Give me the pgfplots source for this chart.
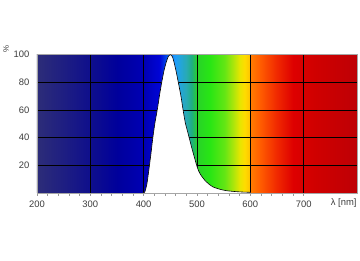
\documentclass[border=0pt]{standalone}
\usepackage{fontspec}
\setmainfont{Liberation Sans}
\usepackage{pgfplots}
\pgfplotsset{compat=1.18}
\definecolor{c200}{RGB}{45,45,120}
\definecolor{c300}{RGB}{15,15,140}
\definecolor{c350}{RGB}{0,0,155}
\definecolor{c400}{RGB}{0,0,180}
\definecolor{c430}{RGB}{0,5,215}
\definecolor{c445}{RGB}{0,90,240}
\definecolor{c458}{RGB}{30,155,255}
\definecolor{c468}{RGB}{35,165,220}
\definecolor{c480}{RGB}{40,170,180}
\definecolor{c490}{RGB}{30,175,130}
\definecolor{c500}{RGB}{40,210,40}
\definecolor{c524}{RGB}{40,230,20}
\definecolor{c552}{RGB}{100,230,20}
\definecolor{c570}{RGB}{180,230,10}
\definecolor{c580}{RGB}{230,230,0}
\definecolor{c589}{RGB}{255,220,0}
\definecolor{c598}{RGB}{255,200,0}
\definecolor{c600}{RGB}{255,125,0}
\definecolor{c620}{RGB}{255,90,0}
\definecolor{c650}{RGB}{240,40,0}
\definecolor{c680}{RGB}{222,0,0}
\definecolor{c720}{RGB}{208,0,0}
\definecolor{c800}{RGB}{190,0,5}
\definecolor{txt}{RGB}{60,60,60}
% position(bp) = 25 + (nm-200)/12
\pgfdeclarehorizontalshading{spectrum}{100bp}{%
color(0bp)=(c200);
color(25bp)=(c200);
color(33.33bp)=(c300);
color(37.5bp)=(c350);
color(41.67bp)=(c400);
color(44.17bp)=(c430);
color(45.42bp)=(c445);
color(46.5bp)=(c458);
color(47.33bp)=(c468);
color(48.33bp)=(c480);
color(49.17bp)=(c490);
color(50bp)=(c500);
color(52bp)=(c524);
color(54.33bp)=(c552);
color(55.83bp)=(c570);
color(56.67bp)=(c580);
color(57.42bp)=(c589);
color(58.17bp)=(c598);
color(58.33bp)=(c600);
color(60bp)=(c620);
color(62.5bp)=(c650);
color(65bp)=(c680);
color(68.33bp)=(c720);
color(75bp)=(c800);
color(100bp)=(c800)}
\begin{document}
\begin{tikzpicture}
\begin{axis}[
  scale only axis,
  width=322bp, height=139bp,
  xmin=200, xmax=800, ymin=0, ymax=100,
  axis background/.style={shading=spectrum},
  axis line style={draw=gray!70, line width=0.5pt},
  xtick={200,300,...,700},
  minor x tick num=4,
  ytick={20,40,60,80,100},
  grid=major,
  major grid style={draw=black, line width=0.45pt},
  xtick pos=bottom,
  tick align=outside,
  major tick length=3bp, minor tick length=3bp,
  every tick/.style={draw=gray!80, line width=0.5pt},
  ytick style={draw=none},
  extra x ticks={775},
  extra x tick labels={λ [nm]},
  extra x tick style={grid=none, major tick length=0pt, tick style={draw=none}},
  tick label style={font=\fontsize{9.5}{10}\selectfont, text=txt},
  /pgf/number format/assume math mode=true,
  xticklabel style={yshift=-2bp},
  yticklabel style={xshift=-1bp},
  clip mode=individual,
]
\addplot[fill=white, draw=none, smooth, tension=0.4] table {
x y
398 0
402 0.5
406 6
410 17
414 29
417 39
421 50
426 61
430 71
434 80
438 88
442 94
446 98.5
450 100
454 98.5
458 93
462 86
465 80
470 70
474 60
478 51
482 45
486 39
490 33
495 26
499 20.5
503 16
508 12.5
515 9
522 6.5
530 4.3
543 2.6
555 1.6
570 1.0
586 0.6
600 0.4
600 0
} \closedcycle;
\addplot[draw=black, line width=0.6pt, smooth, tension=0.4] table {
x y
398 0
402 0.5
406 6
410 17
414 29
417 39
421 50
426 61
430 71
434 80
438 88
442 94
446 98.5
450 100
454 98.5
458 93
462 86
465 80
470 70
474 60
478 51
482 45
486 39
490 33
495 26
499 20.5
503 16
508 12.5
515 9
522 6.5
530 4.3
543 2.6
555 1.6
570 1.0
586 0.6
600 0.4
};
\node[rotate=-90, font=\fontsize{8}{9}\selectfont, text=txt, anchor=center] at ([xshift=-31bp,yshift=6bp]rel axis cs:0,1) {\%};
\end{axis}
\path[use as bounding box] (-36bp,-68bp) rectangle (324bp,194bp);
\end{tikzpicture}
\end{document}
